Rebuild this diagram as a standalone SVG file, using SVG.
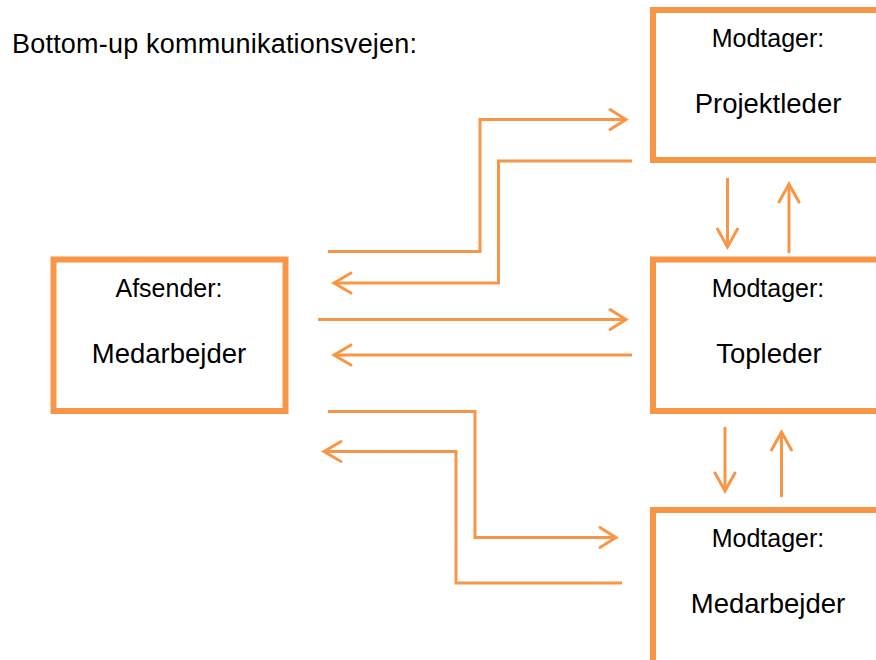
<svg xmlns="http://www.w3.org/2000/svg" width="876" height="660" viewBox="0 0 876 660">
  <defs>
    <style>
      .box { fill: #ffffff; stroke: #F79646; stroke-width: 6; }
      .link { fill: none; stroke: #F79646; stroke-width: 3; stroke-linejoin: miter; }
      .head { fill: none; stroke: #F79646; stroke-width: 3; stroke-linecap: round; stroke-linejoin: miter; }
      text { font-family: "Liberation Sans", Arial, sans-serif; fill: #000000; text-anchor: middle; }
      .role { font-size: 25px; }
      .name { font-size: 27.5px; }
      .title { font-size: 27px; text-anchor: start; }
    </style>
  </defs>
  <rect width="876" height="660" fill="#ffffff"/>

  <text class="title" x="12" y="53" textLength="405" lengthAdjust="spacing">Bottom-up kommunikationsvejen:</text>

  <!-- sender -->
  <g id="afsender">
    <rect class="box" x="53.5" y="259.5" width="232" height="151.5"/>
    <text class="role" x="169" y="297">Afsender:</text>
    <text class="name" x="169" y="363">Medarbejder</text>
  </g>

  <!-- receivers -->
  <g id="projektleder">
    <rect class="box" x="653" y="10" width="240" height="150"/>
    <text class="role" x="768" y="47">Modtager:</text>
    <text class="name" x="768" y="113">Projektleder</text>
  </g>

  <g id="topleder">
    <rect class="box" x="653" y="259.5" width="240" height="151.5"/>
    <text class="role" x="768" y="297">Modtager:</text>
    <text class="name" x="769" y="363">Topleder</text>
  </g>

  <g id="medarbejder">
    <rect class="box" x="653" y="510" width="240" height="170"/>
    <text class="role" x="768" y="547">Modtager:</text>
    <text class="name" x="768" y="613">Medarbejder</text>
  </g>

  <!-- connectors -->
  <g id="connectors">
    <!-- to / from Projektleder -->
    <polyline class="link" points="328,251.5 480,251.5 480,119.5 626,119.5"/>
    <polyline class="head" points="610,109.5 626,119.5 610,129.5"/>
    <polyline class="link" points="632,161 498.5,161 498.5,283 334,283"/>
    <polyline class="head" points="351,273 334,283 351,293"/>

    <!-- to / from Topleder -->
    <line class="link" x1="318" y1="319.5" x2="626" y2="319.5"/>
    <polyline class="head" points="610,309.5 626,319.5 610,329.5"/>
    <line class="link" x1="632" y1="355" x2="334" y2="355"/>
    <polyline class="head" points="351,345 334,355 351,365"/>

    <!-- to / from Medarbejder -->
    <polyline class="link" points="328,411.5 475,411.5 475,537.5 616,537.5"/>
    <polyline class="head" points="600,527.5 616,537.5 600,547.5"/>
    <polyline class="link" points="622,583 456,583 456,451.5 324,451.5"/>
    <polyline class="head" points="341,441.5 324,451.5 341,461.5"/>

    <!-- between Projektleder and Topleder -->
    <line class="link" x1="727.5" y1="178" x2="727.5" y2="247"/>
    <polyline class="head" points="717.5,229 727.5,247 737.5,229"/>
    <line class="link" x1="789" y1="253" x2="789" y2="184"/>
    <polyline class="head" points="779,202 789,184 799,202"/>

    <!-- between Topleder and Medarbejder -->
    <line class="link" x1="725" y1="427" x2="725" y2="491"/>
    <polyline class="head" points="715,473 725,491 735,473"/>
    <line class="link" x1="781.5" y1="497" x2="781.5" y2="432"/>
    <polyline class="head" points="771.5,450 781.5,432 791.5,450"/>
  </g>
</svg>
